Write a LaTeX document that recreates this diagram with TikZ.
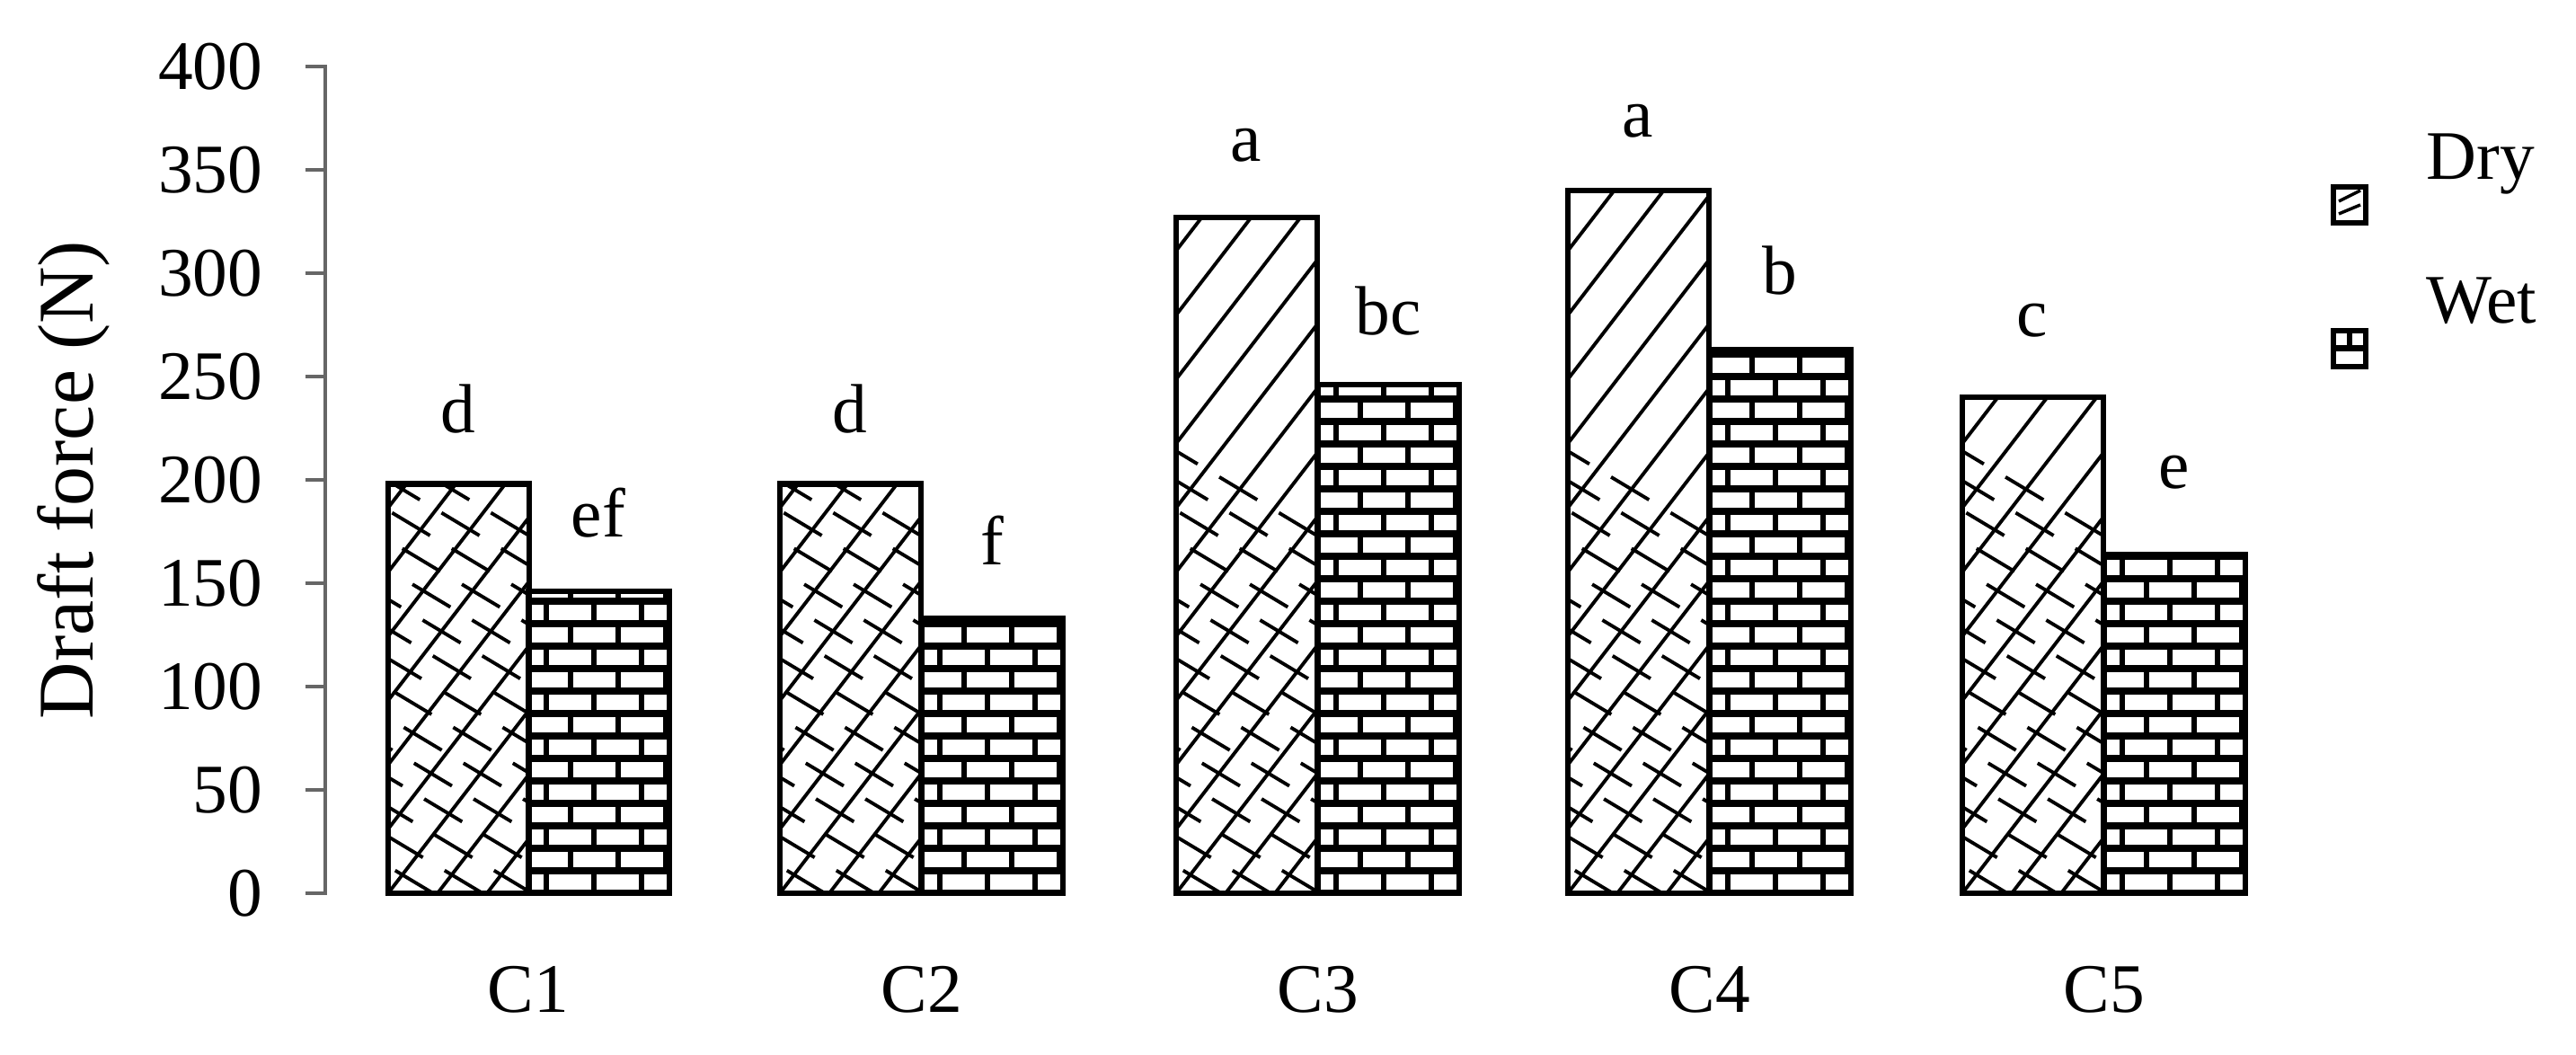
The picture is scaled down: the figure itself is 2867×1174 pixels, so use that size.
\documentclass[tikz,border=0pt]{standalone}
\usepackage{fontspec}
\setmainfont{Liberation Serif}
\begin{document}
\begin{tikzpicture}[x=0.01cm,y=0.01cm,
  txt/.style={font=\fontsize{22}{24}\selectfont, inner sep=0pt},
  barframe/.style={draw=black, line width=1.8pt},
  axisline/.style={draw=gray!80!black, line width=1.4pt}]
\useasboundingbox (0,0) rectangle (2867,1174);
\newcommand{\drybar}[2]{%
  \begin{scope}
    \clip (#1,180) rectangle ++(157,#2*2.3);
    \foreach \i in {-16,...,4}{
      \draw[line width=1.1pt] (#1+\i*55,180) -- ++(900,1170);
      \draw[line width=1.1pt, dash pattern=on 14pt off 8pt] (#1+\i*55+600,180) -- ++(-1000,600);
    }
  \end{scope}
  \draw[barframe] (#1,180) rectangle ++(157,#2*2.3);}
\newcommand{\wetbar}[2]{%
  \begin{scope}
    \clip (#1,180) rectangle ++(157,#2*2.3);
    \foreach \r in {0,...,32}{
      \draw[line width=2.2pt] (#1,180+\r*25) -- ++(157,0);
      \pgfmathsetmacro{\off}{mod(\r,2)*27}
      \foreach \k in {-1,...,3}{
        \draw[line width=1.6pt] (#1+\off+\k*53+20,180+\r*25) -- ++(0,25);
      }
    }
  \end{scope}
  \draw[barframe] (#1,180) rectangle ++(157,#2*2.3);}
% axis
\draw[axisline] (340,180) -- (362,180) -- (362,1100) -- (340,1100);
\foreach \v in {50,100,...,350} \draw[axisline] (340,180+\v*2.3) -- (362,180+\v*2.3);
\foreach \v in {0,50,...,400} \node[txt, anchor=east] (t\v) at (293,180+\v*2.3) {\v};
\node[txt, rotate=90, font=\fontsize{25}{28}\selectfont] (ytitle) at (82,640) {Draft force (N)};
% bars
\drybar{432}{198} \wetbar{588}{146}
\drybar{868}{198} \wetbar{1026}{133}
\drybar{1309}{327} \wetbar{1467}{246}
\drybar{1745}{340} \wetbar{1903}{263}
\drybar{2184}{240} \wetbar{2342}{164}
% letters
\node[txt] (l1a) at (510,719) {d};
\node[txt] (l1b) at (666,603) {ef};
\node[txt] (l2a) at (946,719) {d};
\node[txt] (l2b) at (1104,573) {f};
\node[txt] (l3a) at (1387,1012) {a};
\node[txt] (l3b) at (1545,828) {bc};
\node[txt] (l4a) at (1823,1039) {a};
\node[txt] (l4b) at (1981,873) {b};
\node[txt] (l5a) at (2262,817) {c};
\node[txt] (l5b) at (2420,648) {e};
% categories
\node[txt] (c1) at (588,73) {C1};
\node[txt] (c2) at (1026,73) {C2};
\node[txt] (c3) at (1467,73) {C3};
\node[txt] (c4) at (1903,73) {C4};
\node[txt] (c5) at (2342,73) {C5};
% legend
\draw[barframe] (2597,966) rectangle ++(36,-40);
\draw[line width=1pt] (2603,950) -- (2627,962);
\draw[line width=1pt] (2603,936) -- (2627,946);
\node[txt, anchor=base west] (ldry) at (2700,974) {Dry};
\draw[barframe] (2597,806) rectangle ++(36,-40);
\draw[line width=2pt] (2597,786) -- (2633,786);
\draw[line width=1.5pt] (2615,786) -- (2615,806);
\node[txt, anchor=base west] (lwet) at (2700,814) {Wet};
\end{tikzpicture}
\end{document}
